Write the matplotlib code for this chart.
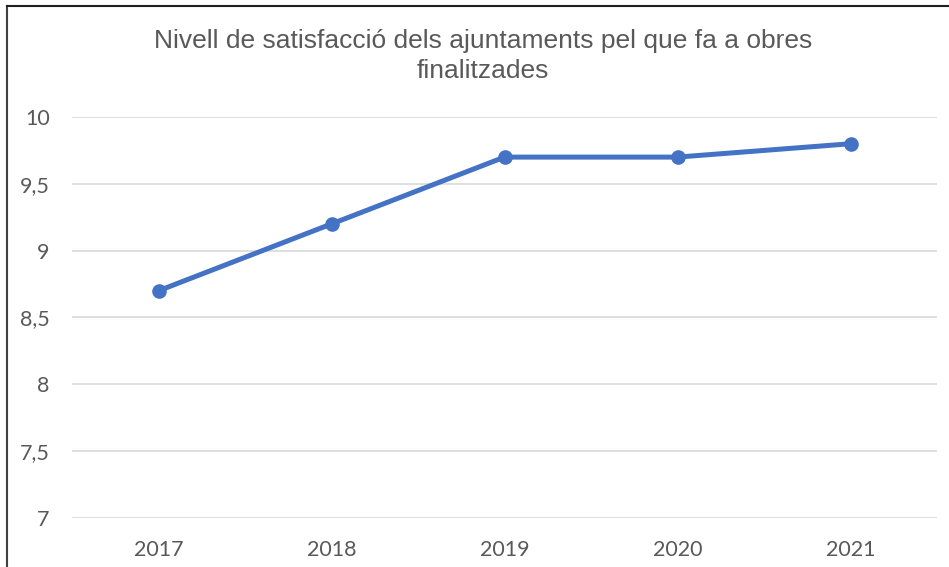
import matplotlib
matplotlib.use('Agg')
import matplotlib.pyplot as plt
from matplotlib.lines import Line2D

# dades
years = ['2017', '2018', '2019', '2020', '2021']
satisfaction = [8.7, 9.2, 9.7, 9.7, 9.8]
y_ticks = [7, 7.5, 8, 8.5, 9, 9.5, 10]
y_labels = ['7', '7,5', '8', '8,5', '9', '9,5', '10']

fig = plt.figure(figsize=(9.49, 5.67), dpi=100)
ax = fig.add_axes([72 / 949, (567 - 518) / 567, (937 - 72) / 949, (518 - 117) / 567])

x = range(len(years))
ax.plot(x, satisfaction, color='#4472C4', linewidth=3.6, marker='o', markersize=9.5,
        solid_capstyle='round', zorder=3)

ax.set_xlim(-0.5, len(years) - 0.5)
ax.set_ylim(7, 10)
ax.set_yticks(y_ticks)
ax.set_yticklabels(y_labels)
ax.set_xticks(list(x))
ax.set_xticklabels(years)
ax.grid(axis='y', color='#D9D9D9', linewidth=1.2)
ax.set_axisbelow(True)
for s in ax.spines.values():
    s.set_visible(False)
ax.tick_params(length=0, labelsize=15.5, colors='#595959')
for lab in ax.get_xticklabels() + ax.get_yticklabels():
    lab.set_family('Lato')
ax.tick_params(axis='y', pad=16)
ax.tick_params(axis='x', pad=16)

fig.text(483 / 949, 1 - 56 / 567, 'Nivell de satisfacció dels ajuntaments pel que fa a obres\nfinalitzades',
         ha='center', va='center', fontsize=19, color='#595959', family='Liberation Sans',
         linespacing=1.35)

# marc
fig.add_artist(Line2D([7 / 949, 7 / 949], [0, 1 - 6 / 567], color='#404040', linewidth=1.5))
fig.add_artist(Line2D([7 / 949, 1], [1 - 6 / 567, 1 - 6 / 567], color='#202020', linewidth=1.5))

fig.savefig('out.png', dpi=100, facecolor='white')
